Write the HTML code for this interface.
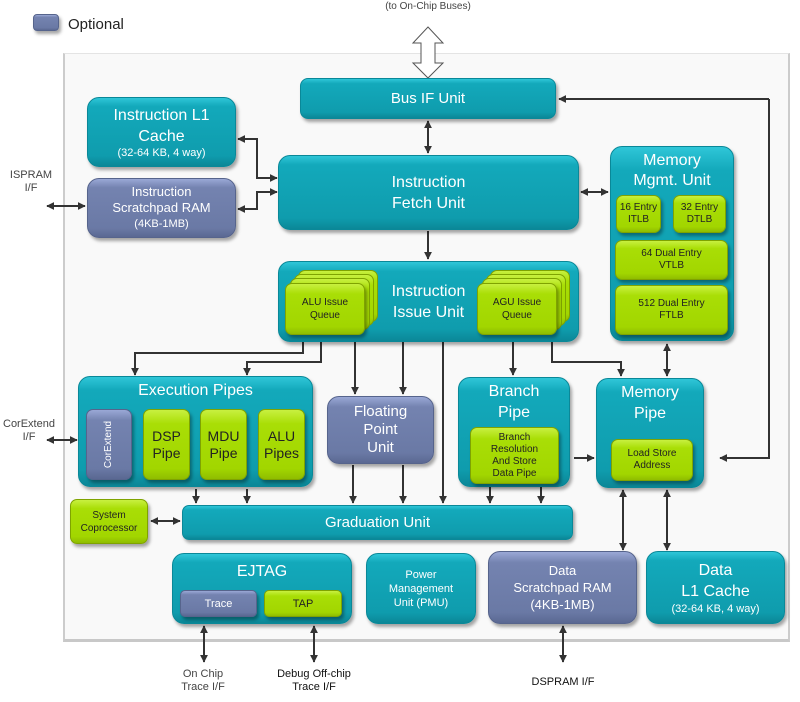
<!DOCTYPE html>
<html><head><meta charset="utf-8"><style>
*{margin:0;padding:0;box-sizing:border-box}
body{width:800px;height:702px;background:#fff;position:relative;overflow:hidden;font-family:"Liberation Sans",sans-serif}
.b{position:absolute;border-radius:12px;color:#fff;text-align:center;box-shadow:2px 3px 3px rgba(0,0,0,.35)}
.t{background:linear-gradient(#2fc6d8 0%,#13a9bb 12%,#0f9cad 85%,#0b8797 100%);border:1px solid #0a8898}
.u{background:linear-gradient(#9aa8d6 0%,#7483b0 15%,#6a79a5 85%,#5a6892 100%);border:1px solid #56648c}
.g{background:linear-gradient(#c8f040 0%,#a9de06 20%,#a2d600 85%,#8fbd00 100%);border:1px solid #7fa300;color:#222;border-radius:7px}
.c{display:flex;flex-direction:column;align-items:center;justify-content:center}
.lbl{position:absolute;font-size:11px;color:#444;text-align:center;line-height:13px}
</style></head><body>
<div style="position:absolute;left:63px;top:53px;width:727px;height:589px;background:#f9f9f9;border-left:2px solid #ccc;border-top:1px solid #e4e4e4;border-right:2px solid #ccc;border-bottom:3px solid #c8c8c8"></div>
<div class="b u" style="left:33px;top:14px;width:26px;height:17px;border-radius:4px"></div>
<div style="position:absolute;left:68px;top:16px;font-size:15px;color:#222">Optional</div>
<div class="lbl" style="left:360px;top:0px;width:136px;font-size:10px">(to On-Chip Buses)</div>

<svg width="800" height="702" style="position:absolute;left:0;top:0">
<defs><marker id="a" viewBox="0 0 10 10" refX="9" refY="5" markerWidth="4" markerHeight="4" orient="auto-start-reverse"><path d="M0,0L10,5L0,10z" fill="#333"/></marker></defs>
<path d="M428,27 L443,43 L435,43 L435,63 L443,63 L428,78 L413,63 L421,63 L421,43 L413,43 Z" fill="#fff" stroke="#555" stroke-width="1"/>
<g stroke="#333" stroke-width="2" fill="none" marker-end="url(#a)">
<path d="M428,121 L428,153" marker-start="url(#a)"/>
<path d="M238,139 L257,139 L257,178 L277,178" marker-start="url(#a)"/>
<path d="M238,209 L257,209 L257,192 L277,192" marker-start="url(#a)"/>
<path d="M47,206 L85,206" marker-start="url(#a)"/>
<path d="M581,192 L608,192" marker-start="url(#a)"/>
<path d="M769,99 L559,99" />
<path d="M769,99 L769,458 L720,458"/>
<path d="M428,231 L428,259"/>
<path d="M303,342 L303,353 L135,353 L135,375"/>
<path d="M321,342 L321,362 L247,362 L247,375"/>
<path d="M355,342 L355,394"/>
<path d="M403,342 L403,394"/>
<path d="M443,342 L443,503"/>
<path d="M513,336 L513,375"/>
<path d="M552,342 L552,362 L621,362 L621,376"/>
<path d="M667,344 L667,376" marker-start="url(#a)"/>
<path d="M47,440 L77,440" marker-start="url(#a)"/>
<path d="M574,458 L594,458"/>
<path d="M196,489 L196,503"/><path d="M247,489 L247,503"/>
<path d="M353,465 L353,503"/><path d="M403,465 L403,503"/>
<path d="M490,487 L490,503"/><path d="M541,487 L541,503"/>
<path d="M151,521 L180,521" marker-start="url(#a)"/>
<path d="M623,490 L623,550" marker-start="url(#a)"/>
<path d="M667,490 L667,550" marker-start="url(#a)"/>
<path d="M204,626 L204,662" marker-start="url(#a)"/>
<path d="M314,626 L314,662" marker-start="url(#a)"/>
<path d="M563,626 L563,662" marker-start="url(#a)"/>
</g></svg>

<div class="lbl" style="left:6px;top:169px;width:50px">ISPRAM<br>I/F</div>
<div class="lbl" style="left:0px;top:418px;width:58px">CorExtend<br>I/F</div>
<div class="lbl" style="left:168px;top:668px;width:70px">On Chip<br>Trace I/F</div>
<div class="lbl" style="left:268px;top:668px;width:92px;color:#111">Debug Off-chip<br>Trace I/F</div>
<div class="lbl" style="left:518px;top:676px;width:90px;color:#111">DSPRAM I/F</div>

<div class="b t c" style="left:300px;top:78px;width:256px;height:41px;border-radius:8px;font-size:15px">Bus IF Unit</div>
<div class="b t c" style="left:87px;top:97px;width:149px;height:70px;font-size:16px;line-height:21px">Instruction L1<br>Cache<span style="font-size:11px;line-height:13px">(32-64 KB, 4 way)</span></div>
<div class="b u c" style="left:87px;top:178px;width:149px;height:60px;font-size:13px;line-height:16px">Instruction<br>Scratchpad RAM<br><span style="font-size:11px">(4KB-1MB)</span></div>
<div class="b t c" style="left:278px;top:155px;width:301px;height:75px;font-size:16px;line-height:21px">Instruction<br>Fetch Unit</div>

<div class="b t" style="left:610px;top:146px;width:124px;height:195px;font-size:16px;line-height:20px;padding-top:4px">Memory<br>Mgmt. Unit</div>
<div class="b g c" style="left:616px;top:195px;width:45px;height:38px;font-size:10px;line-height:12px">16 Entry<br>ITLB</div>
<div class="b g c" style="left:673px;top:195px;width:53px;height:38px;font-size:10px;line-height:12px">32 Entry<br>DTLB</div>
<div class="b g c" style="left:615px;top:240px;width:113px;height:40px;font-size:10px;line-height:12px">64 Dual Entry<br>VTLB</div>
<div class="b g c" style="left:615px;top:285px;width:113px;height:50px;font-size:10px;line-height:12px">512 Dual Entry<br>FTLB</div>

<div class="b t c" style="left:278px;top:261px;width:301px;height:81px;font-size:16px;line-height:21px">Instruction<br>Issue Unit</div>
<div class="b g" style="left:298px;top:270px;width:80px;height:52px;box-shadow:none"></div>
<div class="b g" style="left:294px;top:274px;width:80px;height:52px;box-shadow:none"></div>
<div class="b g" style="left:290px;top:278px;width:80px;height:52px;box-shadow:none"></div>
<div class="b g c" style="left:285px;top:283px;width:80px;height:52px;font-size:10px;line-height:13px">ALU Issue<br>Queue</div>
<div class="b g" style="left:490px;top:270px;width:80px;height:52px;box-shadow:none"></div>
<div class="b g" style="left:486px;top:274px;width:80px;height:52px;box-shadow:none"></div>
<div class="b g" style="left:482px;top:278px;width:80px;height:52px;box-shadow:none"></div>
<div class="b g c" style="left:477px;top:283px;width:80px;height:52px;font-size:10px;line-height:13px">AGU Issue<br>Queue</div>

<div class="b t" style="left:78px;top:376px;width:235px;height:111px;font-size:16px;padding-top:5px">Execution Pipes</div>
<div class="b u c" style="left:86px;top:409px;width:46px;height:71px;border-radius:7px;font-size:10px"><span style="transform:rotate(-90deg);display:block;white-space:nowrap">CorExtend</span></div>
<div class="b g c" style="left:143px;top:409px;width:47px;height:71px;font-size:14px;line-height:17px">DSP<br>Pipe</div>
<div class="b g c" style="left:200px;top:409px;width:47px;height:71px;font-size:14px;line-height:17px">MDU<br>Pipe</div>
<div class="b g c" style="left:258px;top:409px;width:47px;height:71px;font-size:14px;line-height:17px">ALU<br>Pipes</div>

<div class="b u c" style="left:327px;top:396px;width:107px;height:68px;font-size:15px;line-height:18px">Floating<br>Point<br>Unit</div>

<div class="b t" style="left:458px;top:377px;width:112px;height:110px;font-size:16px;line-height:21px;padding-top:3px">Branch<br>Pipe</div>
<div class="b g c" style="left:470px;top:427px;width:89px;height:57px;font-size:10px;line-height:12px">Branch<br>Resolution<br>And Store<br>Data Pipe</div>

<div class="b t" style="left:596px;top:378px;width:108px;height:110px;font-size:16px;line-height:21px;padding-top:3px">Memory<br>Pipe</div>
<div class="b g c" style="left:611px;top:439px;width:82px;height:42px;font-size:10px;line-height:12px">Load Store<br>Address</div>

<div class="b g c" style="left:70px;top:499px;width:78px;height:45px;font-size:10px;line-height:13px">System<br>Coprocessor</div>
<div class="b t c" style="left:182px;top:505px;width:391px;height:35px;border-radius:7px;font-size:15px">Graduation Unit</div>

<div class="b t" style="left:172px;top:553px;width:180px;height:71px;font-size:16px;padding-top:9px">EJTAG</div>
<div class="b u c" style="left:180px;top:590px;width:77px;height:27px;border-radius:5px;font-size:11px">Trace</div>
<div class="b g c" style="left:264px;top:590px;width:78px;height:27px;border-radius:5px;font-size:11px">TAP</div>
<div class="b t c" style="left:366px;top:553px;width:110px;height:71px;font-size:11px;line-height:14px">Power<br>Management<br>Unit (PMU)</div>
<div class="b u c" style="left:488px;top:551px;width:149px;height:73px;font-size:13px;line-height:17px">Data<br>Scratchpad RAM<br>(4KB-1MB)</div>
<div class="b t c" style="left:646px;top:551px;width:139px;height:73px;font-size:16px;line-height:21px">Data<br>L1 Cache<span style="font-size:11px;line-height:14px">(32-64 KB, 4 way)</span></div>
</body></html>
